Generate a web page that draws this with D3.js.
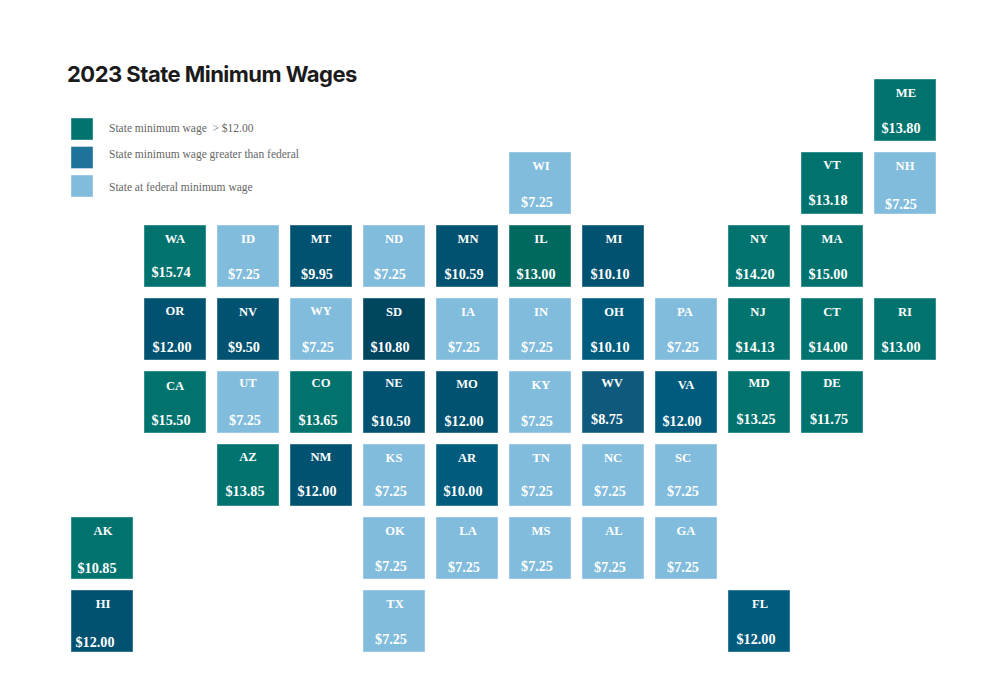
<!DOCTYPE html>
<html><head><meta charset="utf-8">
<script src="https://cdnjs.cloudflare.com/ajax/libs/d3/7.8.5/d3.min.js"></script>
<style>html,body{margin:0;padding:0;background:#fff}svg{display:block}</style>
</head><body><svg id="c" width="1003" height="692"></svg>
<script>
const states = ["ME","WI","VT","NH","WA","ID","MT","ND","MN","IL","MI","NY","MA","OR","NV","WY","SD","IA","IN","OH","PA","NJ","CT","RI","CA","UT","CO","NE","MO","KY","WV","VA","MD","DE","AZ","NM","KS","AR","TN","NC","SC","AK","OK","LA","MS","AL","GA","HI","TX","FL"];
const wages = [13.80,7.25,13.18,7.25,15.74,7.25,9.95,7.25,10.59,13.00,10.10,14.20,15.00,12.00,9.50,7.25,10.80,7.25,7.25,10.10,7.25,14.13,14.00,13.00,15.50,7.25,13.65,10.50,12.00,7.25,8.75,12.00,13.25,11.75,13.85,12.00,7.25,10.00,7.25,7.25,7.25,10.85,7.25,7.25,7.25,7.25,7.25,12.00,7.25,12.00];
const gridCols = [11,6,10,11,1,2,3,4,5,6,7,9,10,1,2,3,4,5,6,7,8,9,10,11,1,2,3,4,5,6,7,8,9,10,2,3,4,5,6,7,8,0,4,5,6,7,8,0,4,9];
const gridRows = [0,1,1,1,2,2,2,2,2,2,2,2,2,3,3,3,3,3,3,3,3,3,3,3,4,4,4,4,4,4,4,4,4,4,5,5,5,5,5,5,5,6,6,6,6,6,6,7,7,7];
const tiers = ["t","l","t","l","t","l","n","l","n","g","n","t","t","n","n","l","d","l","l","b","l","t","t","t","t","l","t","n","n","l","w","b","t","t","t","n","l","b","l","l","l","t","l","l","l","l","l","n","l","b"];
const tierKeys = ["t","g","n","b","w","d","l"];
const tierColors = ["#00736e","#00695f","#005270","#005b7c","#0f5a7c","#00465f","#82bcdc"];
const legendLabels = ["State minimum wage  > $12.00","State minimum wage greater than federal","State at federal minimum wage"];
const legendColors = ["#00736e","#1f7299","#82bcdc"];
const title = "2023 State Minimum Wages";
// hand-placement of the labels in the source: [label dx, label dy, value dx, value dy]
const nudges = {ME:[1,0,0,.5],WI:[1,-.5,1,1.5],VT:[0,-1.5,0,-.5],NH:[0,-.5,0,3.5],WA:[0,0,0,-1.5],MN:[1,0,1,0],IL:[1,0,0,0],MI:[1,0,1,0],OR:[0,-1.5,1,0],WY:[0,-1.5,1,0],IA:[1,0,1,.5],IN:[1,0,1,.5],OH:[1,0,1,.5],PA:[-1,0,1,.5],NJ:[-1,0,0,.5],CT:[0,0,0,.5],RI:[0,0,0,.5],CA:[0,.5,0,0],UT:[0,-2.5,1,.5],CO:[0,-2.5,1,0],NE:[0,-2.5,1,1.5],MO:[0,-1.5,1,1.5],KY:[1,0,1,1.5],WV:[-1,-2.5,-2,-.5],VA:[0,0,0,1.5],MD:[0,-2.5,1,-.5],DE:[0,-2.5,1,-.5],AZ:[0,-1.5,1,-1.5],NM:[0,-1.5,0,-1.5],KS:[0,-.5,1,-1.5],AR:[0,-.5,0,-1.5],TN:[1,-.5,1,-1.5],NC:[0,-.5,1,-1.5],SC:[-3,-.5,1,-1.5],AK:[1,-.5,-1,2.5],OK:[1,-.5,1,0],LA:[1,-.5,1,1.5],MS:[1,-.5,1,0],AL:[1,-.5,1,1.5],GA:[0,-.5,1,1.5],HI:[1,-.5,-3,3.5],TX:[1,-.5,1,0],FL:[1,-.5,1,0]};

const svg = d3.select("#c");
const x = d3.scaleBand().domain(d3.range(12)).range([71,936]).paddingInner(11/73).paddingOuter(0);
const y = d3.scaleBand().domain(d3.range(8)).range([79,652]).paddingInner(11/73).paddingOuter(0);
const color = d3.scaleOrdinal().domain(tierKeys).range(tierColors);
const fmt = d3.format("$.2f");
const serif = "'Liberation Serif','Times New Roman',serif";

const data = states.map((s,i)=>({s,w:wages[i],c:gridCols[i],r:gridRows[i],t:tiers[i],n:nudges[s]||[0,0,0,0]}));
const g = svg.selectAll("g.tile").data(data).join("g").attr("class","tile")
  .attr("transform",d=>`translate(${x(d.c)},${y(d.r)})`);
g.append("rect").attr("x",.5).attr("y",.5)
  .attr("width",x.bandwidth()-1).attr("height",y.bandwidth()-1)
  .attr("fill",d=>color(d.t)).attr("stroke",d=>color(d.t)).attr("stroke-opacity",.6);
g.append("text").text(d=>d.s)
  .attr("x",d=>x.bandwidth()/2+d.n[0]).attr("y",d=>18+d.n[1])
  .attr("text-anchor","middle").attr("font-family",serif).attr("font-weight","bold")
  .attr("font-size",12.6).attr("fill","#fff");
g.append("text").text(d=>fmt(d.w))
  .attr("x",d=>x.bandwidth()/2-4+d.n[2]).attr("y",d=>53.5+d.n[3])
  .attr("text-anchor","middle").attr("font-family",serif).attr("font-weight","bold")
  .attr("font-size",14.2).attr("fill","#fff");

svg.append("text").text(title).attr("x",67).attr("y",82)
  .attr("font-family","Inter,sans-serif").attr("font-weight",700)
  .attr("font-size",22).attr("letter-spacing","-0.52").attr("fill","#1b1b1b");

const legY = d3.scalePoint().domain(d3.range(3)).range([118,175]);
const legText = [132,158,191];
const lg = svg.selectAll("g.leg").data(legendLabels).join("g").attr("class","leg");
lg.append("rect").attr("x",71.5).attr("y",(d,i)=>legY(i)+.5).attr("width",21).attr("height",21)
  .attr("fill",(d,i)=>legendColors[i]).attr("stroke",(d,i)=>legendColors[i]).attr("stroke-opacity",.6);
lg.append("text").text(d=>d).attr("x",109).attr("y",(d,i)=>legText[i])
  .attr("font-family",serif).attr("font-size",11.5).attr("fill","#666").style("white-space","pre");
</script></body></html>
